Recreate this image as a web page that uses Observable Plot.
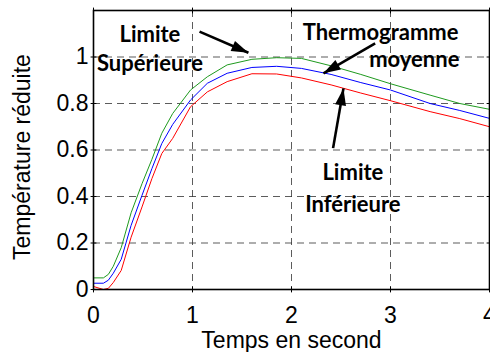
<!DOCTYPE html>
<html>
<head>
<meta charset="utf-8">
<script src="https://cdn.jsdelivr.net/npm/d3@7"></script>
<script src="https://cdn.jsdelivr.net/npm/@observablehq/plot@0.6"></script>
<style>
  html, body { margin: 0; padding: 0; background: #fff; }
  #chart svg { display: block; }
</style>
</head>
<body>
<div id="chart"></div>
<script>
// Time (s)
const temps = [0, 0.1, 0.15, 0.2, 0.28, 0.38, 0.49, 0.59, 0.69, 0.8, 0.98, 1.15, 1.35, 1.6, 1.85, 2.1, 2.4, 2.7, 3.0, 3.4, 3.7, 4.0];
// Limite supérieure (green)
const limiteSup = [0.05, 0.05, 0.065, 0.10, 0.18, 0.33, 0.455, 0.56, 0.672, 0.757, 0.858, 0.915, 0.966, 0.99, 0.997, 0.994, 0.962, 0.925, 0.885, 0.836, 0.80, 0.775];
// Thermogramme moyenne (blue)
const moyenne = [0.027, 0.027, 0.04, 0.07, 0.13, 0.276, 0.405, 0.52, 0.628, 0.71, 0.815, 0.887, 0.93, 0.955, 0.96, 0.951, 0.925, 0.89, 0.858, 0.80, 0.77, 0.736];
// Limite inférieure (red)
const limiteInf = [0.013, 0.0, 0.005, 0.03, 0.082, 0.225, 0.355, 0.477, 0.585, 0.65, 0.786, 0.85, 0.894, 0.928, 0.927, 0.91, 0.88, 0.845, 0.812, 0.765, 0.735, 0.70];

const xTicks = [0, 1, 2, 3, 4];
const yTicks = [0, 0.2, 0.4, 0.6, 0.8, 1];
const yTickLabels = ["0", "0.2", "0.4", "0.6", "0.8", "1"];
const xGrid = [1, 2, 3];
const yGrid = [0.2, 0.4, 0.6, 0.8, 1];
const xLabel = "Temps en second";
const yLabel = "Température réduite";

// Annotations
const annotations = [
  {text: "Limite", t: 0.57, v: 1.095},
  {text: "Supérieure", t: 0.57, v: 0.97},
  {text: "Thermogramme", t: 2.9, v: 1.104},
  {text: "moyenne", t: 3.24, v: 0.987},
  {text: "Limite", t: 2.62, v: 0.50},
  {text: "Inférieure", t: 2.62, v: 0.362}
];
const arrows = [
  {t1: 1.071, v1: 1.109, t2: 1.565, v2: 1.018},
  {t1: 2.845, v1: 1.059, t2: 2.323, v2: 0.93},
  {t1: 2.42, v1: 0.608, t2: 2.525, v2: 0.865}
];

const series = [
  {name: "Limite Supérieure", color: "#1e9a1e", values: limiteSup},
  {name: "Thermogramme moyenne", color: "#0000ff", values: moyenne},
  {name: "Limite Inférieure", color: "#ff0000", values: limiteInf}
];
const rows = series.flatMap(s => temps.map((t, i) => ({t, v: s.values[i], name: s.name})));

const font = "Liberation Sans, Arial, sans-serif";

const tickShape = {draw(context, l) { context.moveTo(0, 0); context.lineTo(0, -l); }};
const headShape = {draw(context, l) {
  context.moveTo(0, -l);
  context.lineTo(-5.5, 0);
  context.lineTo(5.5, 0);
  context.closePath();
}};

function makePlot(heads) {
  return Plot.plot({
    width: 490,
    height: 352,
    marginLeft: 93,
    marginRight: 1,
    marginTop: 10,
    marginBottom: 63,
    style: {fontFamily: font, fontSize: "23px", color: "#000", background: "#fff"},
    x: {domain: [0, 4]},
    y: {domain: [0, 1.2]},
    color: {domain: series.map(s => s.name), range: series.map(s => s.color)},
    marks: [
      Plot.gridX(xGrid, {stroke: "#333", strokeOpacity: 0.8, strokeDasharray: "7,5"}),
      Plot.gridY(yGrid, {stroke: "#333", strokeOpacity: 0.8, strokeDasharray: "7,5"}),
      Plot.line(rows, {x: "t", y: "v", z: "name", stroke: "name", strokeWidth: 1}),
      Plot.axisX(xTicks, {anchor: "bottom", tickSize: 0, tickPadding: 17, fontSize: 23, label: xLabel, labelArrow: "none", labelAnchor: "center", labelOffset: 58}),
      Plot.axisY(yTicks, {anchor: "left", tickSize: 0, tickPadding: 5, fontSize: 23, tickFormat: (d, i) => yTickLabels[i], label: null}),
      Plot.text([yLabel], {text: d => d, frameAnchor: "left", textAnchor: "middle", rotate: -90, lineAnchor: "bottom", dx: -64, dy: 7, fontSize: 23, fill: "#000"}),
      // inward ticks on all four edges
      Plot.vector(yTicks, {y: d => d, frameAnchor: "right", rotate: -90, length: 5, shape: tickShape, stroke: "#000", strokeWidth: 1}),
      Plot.vector(yTicks, {y: d => d, frameAnchor: "left", rotate: 90, length: 5, shape: tickShape, stroke: "#000", strokeWidth: 1}),
      Plot.vector(xTicks, {x: d => d, frameAnchor: "top", rotate: 180, length: 5, shape: tickShape, stroke: "#000", strokeWidth: 1}),
      Plot.vector(xTicks, {x: d => d, frameAnchor: "bottom", rotate: 0, length: 5, shape: tickShape, stroke: "#000", strokeWidth: 1}),
      Plot.frame({stroke: "#000", strokeWidth: 1.6}),
      Plot.link(arrows, {x1: "t1", y1: "v1", x2: "t2", y2: "v2", stroke: "#000", strokeWidth: 2.6}),
      heads ? Plot.vector(heads, {x: "t2", y: "v2", rotate: "angle", anchor: "end", length: 17, shape: headShape, fill: "#000", stroke: "none"}) : null,
      Plot.text(annotations, {x: "t", y: "v", text: "text", fontFamily: "Lato, 'Open Sans', sans-serif", fontWeight: "bold", fontSize: 22, fill: "#000"})
    ]
  });
}

// First pass to obtain the scales, then compute arrowhead screen angles
const base = makePlot(null);
const sx = base.scale("x"), sy = base.scale("y");
const heads = arrows.map(a => {
  const dx = sx.apply(a.t2) - sx.apply(a.t1);
  const dy = sy.apply(a.v2) - sy.apply(a.v1);
  return {...a, angle: Math.atan2(dx, -dy) * 180 / Math.PI};
});
const chart = makePlot(heads);
document.getElementById("chart").appendChild(chart);
</script>
</body>
</html>
